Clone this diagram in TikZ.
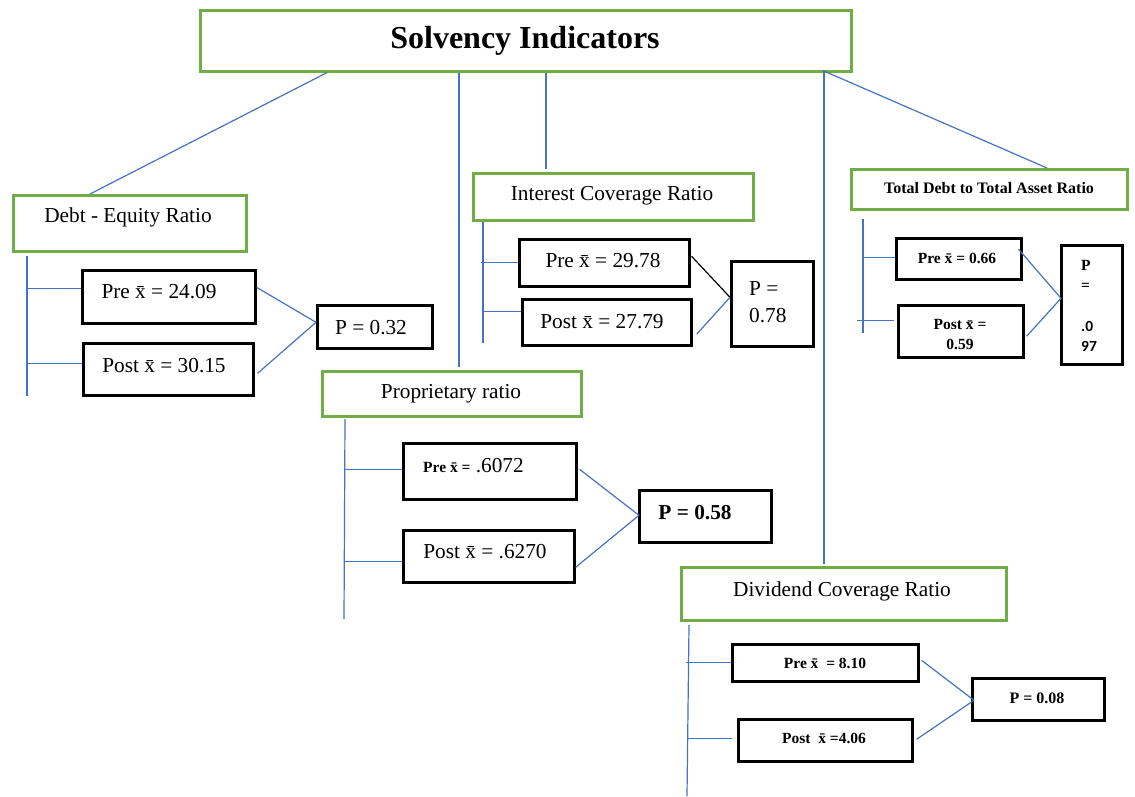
\documentclass[tikz,border=0pt]{standalone}
\usepackage{fontspec}
\setmainfont{Liberation Serif}
\newfontfamily\digitsans{Carlito}
\definecolor{frame}{RGB}{112,173,71}
\definecolor{link}{RGB}{68,114,196}
\newcommand\xb{\=x}
% \panel{name}{style}{x1}{y1}{x2}{y2}: empty framed box from its corners
\newcommand\panel[6]{\node[#2, minimum width={#5-#3}, minimum height={#6-#4}] (#1) at (#3,#4) {};}

\begin{document}
\begin{tikzpicture}[x=1pt,y=-1pt,
  gbox/.style={draw=frame, line width=2.6pt, rectangle, inner sep=0pt, anchor=north west},
  kbox/.style={draw=black, line width=2.6pt, rectangle, inner sep=0pt, anchor=north west},
  lbl/.style={inner sep=0pt, font=\fontsize{21.3}{25}\selectfont},
  blbl/.style={inner sep=0pt, font=\fontsize{15.5}{20}\selectfont\bfseries},
  wire/.style={draw=link, line width=1.2pt},
]
\useasboundingbox (0,0) rectangle (1135,796);

% ---- headline ----
\panel{title}{gbox}{199}{9}{850}{70}
\node[inner sep=0pt, font=\fontsize{32}{36}\selectfont\bfseries] (title-t) at (525,40.5) {Solvency Indicators};

% ---- Debt - Equity ----
\panel{de}{gbox}{12}{194}{245}{250}
\node[lbl] (de-t) at (128,217.5) {Debt - Equity Ratio};
\panel{de-pre}{kbox}{81}{269}{254}{322}
\node[lbl] (de-pre-t) at (159,292) {Pre \xb{} = 24.09};
\panel{de-post}{kbox}{82}{342}{252}{394}
\node[lbl] (de-post-t) at (164,366) {Post \xb{} = 30.15};
\panel{de-p}{kbox}{316}{304}{431}{347}
\node[lbl] (de-p-t) at (371,328) {P = 0.32};
\coordinate (de-s1) at (27,256);
\coordinate (de-s2) at (27,396);
\draw[wire] (de-s1) -- (de-s2);
\draw[wire] ([yshift=8.5pt]de-pre.west) -- ++(-54,0);
\draw[wire] ([yshift=6pt]de-post.west) -- ++(-55,0);
\draw[wire] ([yshift=9.5pt]de-pre.east) -- ([yshift=4.5pt]de-p.west);
\draw[wire] ([xshift=3pt,yshift=-4pt]de-post.east) -- ([yshift=4.5pt]de-p.west);

% ---- Interest Coverage ----
\panel{ic}{gbox}{472}{172}{752}{219}
\node[lbl] (ic-t) at (612,195.5) {Interest Coverage Ratio};
\panel{ic-pre}{kbox}{518}{238}{688}{285}
\node[lbl] (ic-pre-t) at (603,261) {Pre \xb{} = 29.78};
\panel{ic-post}{kbox}{521}{298}{690}{344}
\node[lbl] (ic-post-t) at (602,322) {Post \xb{} = 27.79};
\panel{ic-p}{kbox}{730}{260}{812}{345}
\node[inner sep=0pt, align=left, anchor=north west, font=\fontsize{21.3}{27}\selectfont] (ic-p-t) at (749,281) {P =\\0.78};
\coordinate (ic-s1) at (483,222);
\coordinate (ic-s2) at (483,343);
\draw[wire] (ic-s1) -- (ic-s2);
\draw[wire] (ic-pre.west) -- ++(-37,0);
\draw[wire] ([yshift=11pt]ic-post.west) -- ++(-39,0);
\draw[black, line width=1.2pt] ([xshift=1pt,yshift=6.5pt]ic-pre.east) -- ([yshift=6.5pt]ic-p.west);
\draw[wire] ([xshift=4pt,yshift=-12pt]ic-post.east) -- ([yshift=6.5pt]ic-p.west);

% ---- Total Debt to Total Asset ----
\panel{td}{gbox}{850}{168}{1126}{208}
\node[blbl, font=\fontsize{16}{20}\selectfont\bfseries] (td-t) at (989,188.5) {Total Debt to Total Asset Ratio};
\panel{td-pre}{kbox}{895}{237}{1020}{278}
\node[blbl] (td-pre-t) at (957,258) {Pre \xb{} = 0.66};
\panel{td-post}{kbox}{897}{304}{1022}{356}
\node[blbl, align=center] (td-post-t) at (960,335) {Post \xb{} =\\0.59};
\panel{td-p}{kbox}{1060}{244}{1121}{363}
\node[blbl, align=left, anchor=north west] (td-p-t) at (1081,260) {P\\=\\[21pt]{\digitsans .0}\\{\digitsans 97}};
\coordinate (td-s1) at (863,219);
\coordinate (td-s2) at (863,333);
\draw[wire] (td-s1) -- (td-s2);
\draw[wire] ([yshift=1.5pt]td-pre.west) -- ++(-32,0);
\draw[wire] ([xshift=-3pt,yshift=11pt]td-post.west) -- ++(-37,0);
\draw[wire] ([xshift=-4pt,yshift=9.5pt]td-pre.east) -- ([xshift=1pt,yshift=6.5pt]td-p.west);
\draw[wire] ([xshift=2pt,yshift=-5pt]td-post.east) -- ([xshift=1pt,yshift=6.5pt]td-p.west);

% ---- Proprietary ----
\panel{pr}{gbox}{321}{370}{580}{415}
\node[lbl] (pr-t) at (451,393.5) {Proprietary ratio};
\panel{pr-pre}{kbox}{402}{442}{575}{498}
\node[lbl, anchor=base west] (pr-pre-t) at (423,472) {{\fontsize{15.5}{18}\selectfont\bfseries Pre \xb{} =} .6072};
\panel{pr-post}{kbox}{402}{529}{573}{581}
\node[lbl] (pr-post-t) at (485,552) {Post \xb{} = .6270};
\panel{pr-p}{kbox}{638}{489}{770}{541}
\node[lbl, font=\fontsize{21.3}{25}\selectfont\bfseries] (pr-p-t) at (695,513) {P = 0.58};
\coordinate (pr-s1) at (345,419);
\coordinate (pr-s2) at (344,619);
\draw[wire] (pr-s1) -- (pr-s2);
\draw[wire] ([yshift=2pt]pr-pre.west) -- ++(-57,0);
\draw[wire] ([yshift=-5pt]pr-post.west) -- ++(-58,0);
\draw[wire] ([xshift=2pt,yshift=2pt]pr-pre.east) -- ([xshift=1pt,yshift=1pt]pr-p.west);
\draw[wire] ([yshift=-11pt]pr-post.east) -- ([xshift=1pt,yshift=1pt]pr-p.west);

% ---- Dividend Coverage ----
\panel{dv}{gbox}{680}{566}{1005}{619}
\node[lbl] (dv-t) at (842,591) {Dividend Coverage Ratio};
\panel{dv-pre}{kbox}{731}{643}{917}{680}
\node[blbl] (dv-pre-t) at (825,663) {Pre \xb\ \ = 8.10};
\panel{dv-post}{kbox}{737}{718}{911}{760}
\node[blbl] (dv-post-t) at (824,738) {Post\ \ \xb{} =4.06};
\panel{dv-p}{kbox}{971}{677}{1103}{719}
\node[blbl, font=\fontsize{16}{20}\selectfont\bfseries] (dv-p-t) at (1037,698) {P = 0.08};
\coordinate (dv-s1) at (689,625);
\coordinate (dv-s2) at (687,796);
\draw[wire] (dv-s1) -- (dv-s2);
\draw[wire] (dv-pre.west) -- ++(-45,0);
\draw[wire] ([xshift=-5pt,yshift=2pt]dv-post.west) -- ++(-44,0);
\draw[wire] ([xshift=2pt,yshift=2.5pt]dv-pre.east) -- ([xshift=3pt,yshift=-1pt]dv-p.west);
\draw[wire] ([xshift=3pt,yshift=1pt]dv-post.east) -- ([xshift=3pt,yshift=-1pt]dv-p.west);

% ---- links from the headline ----
\draw[wire] ([xshift=128pt]title.south west) -- ([xshift=78pt]de.north west);
\draw[wire] ([xshift=260pt]title.south west) -- ([xshift=138pt,yshift=3pt]pr.north west);
\draw[wire] ([xshift=347pt]title.south west) -- ([xshift=74pt,yshift=3pt]ic.north west);
\draw[wire] ([xshift=625pt,yshift=2pt]title.south west) -- ([xshift=144pt,yshift=2pt]dv.north west);
\draw[wire] ([xshift=624pt,yshift=2pt]title.south west) -- ([xshift=197pt]td.north west);
\end{tikzpicture}
\end{document}
